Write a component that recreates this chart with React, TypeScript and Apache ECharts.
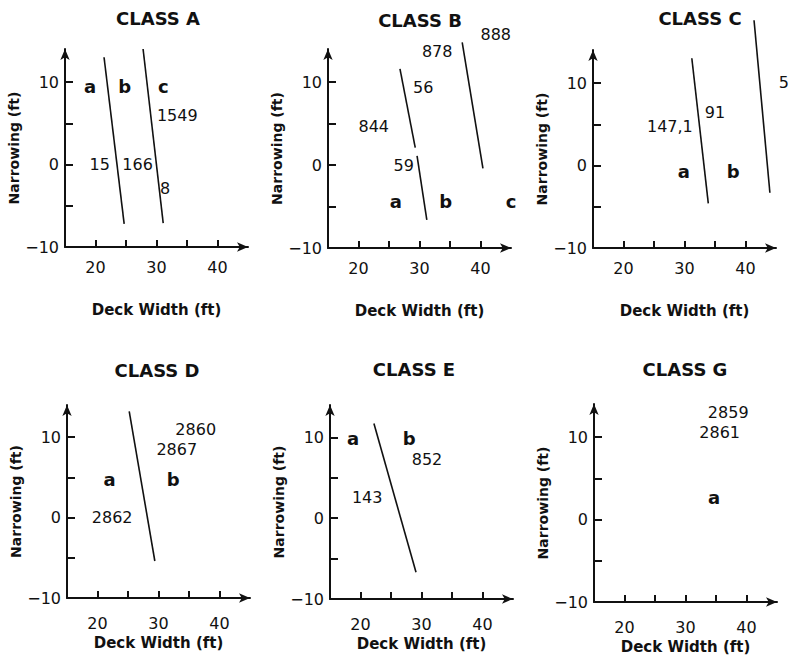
import React, { useEffect, useRef } from "react";
import * as echarts from "echarts";

// ---- Data ----
const panelTitles = ["CLASS A", "CLASS B", "CLASS C", "CLASS D", "CLASS E", "CLASS G"];
const xAxisTitle = "Deck Width (ft)";
const yAxisTitle = "Narrowing (ft)";
const xTickValues = [20, 25, 30, 35, 40];
const xLabelValues = [20, 30, 40];
const yTickValues = [-5, 0, 5, 10];
const yLabelValues = [-10, 0, 10];

// boundary line segments: [x1, y1, x2, y2]
const linesA = [[21.4, 13.0, 24.7, -7.2], [27.8, 14.0, 31.1, -7.1]];
const linesB = [[26.8, 11.6, 29.3, 2.1], [29.6, 1.1, 31.2, -6.6], [37.0, 14.8, 40.4, -0.4]];
const linesC = [[31.2, 13.0, 33.9, -4.6], [41.4, 17.6, 44.0, -3.3]];
const linesD = [[25.2, 13.2, 29.4, -5.4]];
const linesE = [[22.2, 11.7, 29.1, -6.7]];
const linesG: number[][] = [];

// region letters: [x, y, text]
const lettersA = [[19.1, 9.4, "a"], [24.8, 9.4, "b"], [31.1, 9.4, "c"]];
const lettersB = [[26.1, -4.4, "a"], [34.3, -4.4, "b"], [45.0, -4.4, "c"]];
const lettersC = [[29.9, -0.7, "a"], [38.0, -0.7, "b"]];
const lettersD = [[22.0, 4.7, "a"], [32.4, 4.7, "b"]];
const lettersE = [[18.8, 9.8, "a"], [28.0, 9.8, "b"]];
const lettersG = [[34.7, 2.7, "a"]];

// bridge numbers: [x, y, text]
const numbersA = [[33.4, 6.0, "1549"], [20.7, 0, "15"], [26.9, 0, "166"], [31.4, -2.9, "8"]];
const numbersB = [[42.5, 15.7, "888"], [32.9, 13.7, "878"], [30.6, 9.4, "56"], [22.5, 4.6, "844"], [27.4, 0, "59"]];
const numbersC = [[35.0, 6.4, "91"], [27.6, 4.7, "147,1"], [46.3, 10.1, "5"]];
const numbersD = [[36.1, 10.9, "2860"], [33.0, 8.5, "2867"], [22.4, 0, "2862"]];
const numbersE = [[30.9, 7.2, "852"], [21.1, 2.6, "143"]];
const numbersG = [[37.0, 13.0, "2859"], [35.6, 10.6, "2861"]];

const panelLines = [linesA, linesB, linesC, linesD, linesE, linesG];
const panelLetters = [lettersA, lettersB, lettersC, lettersD, lettersE, lettersG];
const panelNumbers = [numbersA, numbersB, numbersC, numbersD, numbersE, numbersG];

// ---- Layout ----
const layouts = [
  { left: 65, top: 49, width: 183, height: 198, tx: 158, ty: 18, xGap: 55, yGap: 31, lm: 12 },
  { left: 328, top: 49, width: 183, height: 199, tx: 420, ty: 20, xGap: 55, yGap: 31, lm: 12 },
  { left: 593, top: 50, width: 183, height: 198, tx: 700, ty: 18, xGap: 55, yGap: 33, lm: 12 },
  { left: 67, top: 405, width: 183, height: 193, tx: 157, ty: 370, xGap: 37, yGap: 38, lm: 17 },
  { left: 330, top: 405, width: 183, height: 194, tx: 414, ty: 369, xGap: 37, yGap: 40, lm: 17 },
  { left: 594, top: 404, width: 183, height: 198, tx: 685, ty: 369, xGap: 37, yGap: 37, lm: 17 },
];

const FONT = "DejaVu Sans";
const INK = "#111111";

function labelSeries(i: number, data: any[], size: number, weight: string) {
  return {
    type: "scatter",
    xAxisIndex: i,
    yAxisIndex: i,
    data,
    symbolSize: 0,
    clip: false,
    silent: true,
    itemStyle: { color: INK, opacity: 1 },
    label: {
      show: true,
      position: "inside",
      formatter: (p: any) => p.value[2],
      fontFamily: FONT,
      fontSize: size,
      fontWeight: weight,
      color: INK,
      opacity: 1,
      textBorderWidth: 0,
      textBorderColor: "transparent",
    },
  };
}

function buildOption() {
  const grid: any[] = [];
  const xAxis: any[] = [];
  const yAxis: any[] = [];
  const series: any[] = [];
  const graphic: any[] = [];

  layouts.forEach((L, i) => {
    grid.push({ left: L.left, top: L.top, width: L.width, height: L.height, containLabel: false });
    xAxis.push({
      gridIndex: i,
      type: "value",
      min: 15,
      max: 45,
      name: xAxisTitle,
      nameLocation: "middle",
      nameGap: L.xGap,
      nameTextStyle: { fontFamily: FONT, fontSize: 15, fontWeight: "bold", color: INK },
      axisLine: {
        show: true,
        onZero: false,
        symbol: ["none", "arrow"],
        symbolSize: [7, 11],
        lineStyle: { color: INK, width: 2 },
      },
      axisTick: { show: true, inside: true, length: 7, customValues: xTickValues, lineStyle: { color: INK, width: 2 } },
      axisLabel: { customValues: xLabelValues, margin: L.lm, fontFamily: FONT, fontSize: 16, color: INK },
      splitLine: { show: false },
    });
    yAxis.push({
      gridIndex: i,
      type: "value",
      min: -10,
      max: 14,
      name: yAxisTitle,
      nameLocation: "middle",
      nameGap: L.yGap,
      nameTextStyle: { fontFamily: FONT, fontSize: 14, fontWeight: "bold", color: INK },
      axisLine: {
        show: true,
        onZero: false,
        symbol: ["none", "arrow"],
        symbolSize: [7, 11],
        lineStyle: { color: INK, width: 2 },
      },
      axisTick: { show: true, inside: true, length: 8, customValues: yTickValues, lineStyle: { color: INK, width: 2 } },
      axisLabel: {
        customValues: yLabelValues,
        margin: 6,
        fontFamily: FONT,
        fontSize: 16,
        color: INK,
        formatter: (v: number) => (v < 0 ? "\u2212" + Math.abs(v) : String(v)),
      },
      splitLine: { show: false },
    });

    graphic.push({
      type: "text",
      x: L.tx,
      y: L.ty,
      style: {
        text: panelTitles[i],
        fontFamily: FONT,
        fontSize: 18,
        fontWeight: "bold",
        fill: INK,
        textAlign: "center",
        textVerticalAlign: "middle",
      },
    });

    panelLines[i].forEach((seg) => {
      series.push({
        type: "line",
        xAxisIndex: i,
        yAxisIndex: i,
        data: [[seg[0], seg[1]], [seg[2], seg[3]]],
        symbol: "none",
        clip: false,
        silent: true,
        lineStyle: { color: INK, width: 1.6 },
      });
    });

    series.push(labelSeries(i, panelLetters[i], 18, "bold"));
    series.push(labelSeries(i, panelNumbers[i], 16, "normal"));
  });

  return {
    animation: false,
    backgroundColor: "#ffffff",
    grid,
    xAxis,
    yAxis,
    series,
    graphic,
  };
}

export default function App() {
  const ref = useRef<HTMLDivElement>(null);
  useEffect(() => {
    if (!ref.current) return;
    const chart = echarts.init(ref.current, null, { renderer: "svg" });
    chart.setOption(buildOption() as any);
    return () => chart.dispose();
  }, []);
  return (
    <div
      ref={ref}
      style={{ position: "fixed", left: 0, top: 0, width: 789, height: 664, background: "#fff" }}
    />
  );
}
